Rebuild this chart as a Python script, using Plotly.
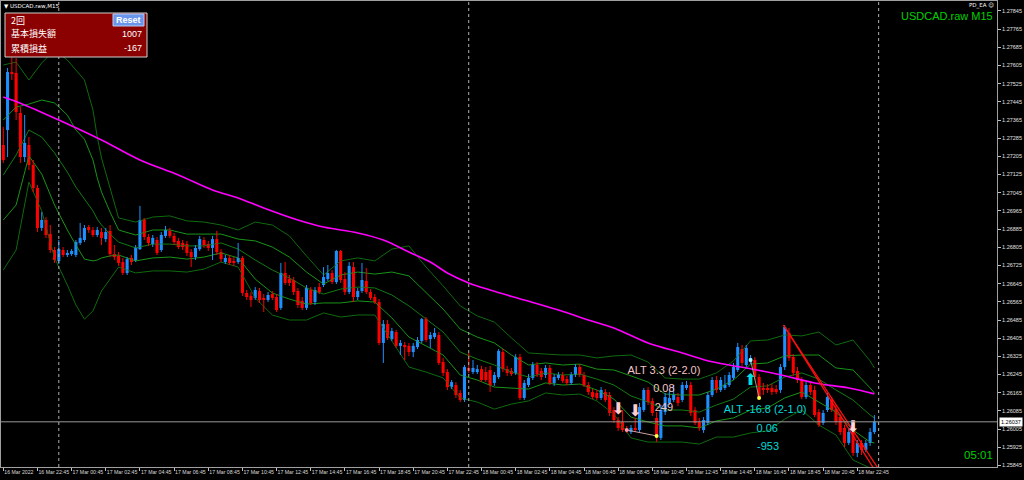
import plotly.graph_objects as go

# ---------------- data ----------------
opens = [1.27255,1.27321,1.27576,1.27572,1.27396,1.27202,1.27255,1.27167,1.27066,1.26890,
         1.26925,1.26863,1.26793,1.26745,1.26793,1.26771,1.26775,1.26771,1.26824,1.26837,
         1.26894,1.26881,1.26859,1.26872,1.26841,1.26877,1.26775,1.26767,1.26740,1.26692,
         1.26758,1.26749,1.26797,1.26925,1.26850,1.26819,1.26837,1.26793,1.26855,1.26877,
         1.26855,1.26833,1.26824,1.26819,1.26784,1.26762,1.26797,1.26837,1.26819,1.26802,
         1.26841,1.26784,1.26740,1.26758,1.26745,1.26740,1.26758,1.26604,1.26591,1.26582,
         1.26613,1.26582,1.26573,1.26599,1.26586,1.26538,1.26692,1.26665,1.26661,1.26613,
         1.26569,1.26538,1.26617,1.26564,1.26630,1.26639,1.26665,1.26692,1.26652,1.26789,
         1.26665,1.26608,1.26718,1.26586,1.26613,1.26657,1.26608,1.26586,1.26564,1.26384,
         1.26467,1.26401,1.26432,1.26371,1.26375,1.26371,1.26344,1.26366,1.26393,1.26489,
         1.26401,1.26410,1.26419,1.26300,1.26256,1.26190,1.26199,1.26164,1.26133,1.26274,
         1.26256,1.26256,1.26269,1.26256,1.26265,1.26208,1.26234,1.26344,1.26269,1.26261,
         1.26252,1.26322,1.26142,1.26199,1.26230,1.26287,1.26261,1.26243,1.26274,1.26208,
         1.26230,1.26243,1.26225,1.26208,1.26243,1.26278,1.26243,1.26199,1.26168,1.26164,
         1.26142,1.26168,1.26155,1.26089,1.26045,1.26036,1.26005,1.25992,1.26010,1.26001,
         1.26089,1.26177,1.26129,1.26054,1.25966,1.26080,1.26120,1.26133,1.26146,1.26133,
         1.26186,1.26199,1.26089,1.26036,1.26001,1.26032,1.26155,1.26221,1.26177,1.26186,
         1.26199,1.26230,1.26265,1.26357,1.26287,1.26300,1.26309,1.26234,1.26186,1.26186,
         1.26186,1.26181,1.26177,1.26278,1.26428,1.26322,1.26261,1.26221,1.26146,1.26199,
         1.26177,1.26080,1.26032,1.26089,1.26133,1.26093,1.26058,1.26010,1.25944,1.25992,
         1.25900,1.25944,1.25913,1.25944,1.25992]
highs = [1.27334,1.27594,1.27642,1.27638,1.27422,1.27387,1.27290,1.27189,1.27079,1.26960,
         1.26938,1.26903,1.26806,1.26837,1.26806,1.26793,1.26797,1.26837,1.26912,1.26903,
         1.26903,1.26894,1.26894,1.26890,1.26890,1.26903,1.26815,1.26784,1.26758,1.26762,
         1.26771,1.26815,1.26987,1.26934,1.26863,1.26859,1.26850,1.26872,1.26899,1.26890,
         1.26868,1.26846,1.26837,1.26833,1.26797,1.26815,1.26855,1.26850,1.26833,1.26855,
         1.26877,1.26797,1.26771,1.26771,1.26762,1.26824,1.26767,1.26617,1.26608,1.26630,
         1.26626,1.26599,1.26608,1.26613,1.26599,1.26736,1.26740,1.26683,1.26674,1.26626,
         1.26586,1.26639,1.26630,1.26630,1.26648,1.26718,1.26727,1.26705,1.26793,1.26793,
         1.26696,1.26740,1.26740,1.26626,1.26736,1.26714,1.26621,1.26599,1.26577,1.26485,
         1.26485,1.26450,1.26441,1.26397,1.26388,1.26384,1.26384,1.26410,1.26494,1.26498,
         1.26432,1.26450,1.26432,1.26318,1.26269,1.26221,1.26212,1.26177,1.26287,1.26340,
         1.26309,1.26287,1.26283,1.26278,1.26283,1.26256,1.26357,1.26357,1.26283,1.26274,
         1.26335,1.26335,1.26221,1.26247,1.26300,1.26300,1.26274,1.26287,1.26287,1.26247,
         1.26256,1.26256,1.26239,1.26256,1.26291,1.26291,1.26256,1.26212,1.26181,1.26177,
         1.26190,1.26181,1.26168,1.26102,1.26058,1.26089,1.26019,1.26023,1.26054,1.26120,
         1.26186,1.26190,1.26142,1.26080,1.26111,1.26164,1.26177,1.26199,1.26164,1.26212,
         1.26217,1.26212,1.26102,1.26054,1.26058,1.26168,1.26234,1.26239,1.26234,1.26243,
         1.26256,1.26296,1.26384,1.26375,1.26375,1.26331,1.26322,1.26247,1.26208,1.26203,
         1.26203,1.26199,1.26291,1.26463,1.26450,1.26335,1.26278,1.26234,1.26212,1.26212,
         1.26195,1.26093,1.26089,1.26164,1.26146,1.26111,1.26071,1.26023,1.26010,1.26023,
         1.25957,1.25957,1.25957,1.26010,1.26067]
lows = [1.27176,1.27202,1.27541,1.27365,1.27176,1.27180,1.27145,1.27048,1.26872,1.26877,
        1.26846,1.26780,1.26736,1.26731,1.26762,1.26762,1.26767,1.26762,1.26815,1.26828,
        1.26868,1.26850,1.26850,1.26815,1.26828,1.26762,1.26749,1.26723,1.26683,1.26683,
        1.26727,1.26740,1.26793,1.26837,1.26811,1.26806,1.26771,1.26784,1.26846,1.26846,
        1.26815,1.26797,1.26793,1.26767,1.26718,1.26749,1.26789,1.26802,1.26789,1.26749,
        1.26771,1.26740,1.26731,1.26727,1.26723,1.26731,1.26591,1.26573,1.26542,1.26573,
        1.26560,1.26520,1.26564,1.26573,1.26520,1.26529,1.26639,1.26635,1.26595,1.26538,
        1.26529,1.26529,1.26551,1.26551,1.26599,1.26630,1.26657,1.26643,1.26643,1.26648,
        1.26595,1.26599,1.26564,1.26573,1.26604,1.26599,1.26573,1.26555,1.26375,1.26296,
        1.26397,1.26393,1.26362,1.26331,1.26309,1.26327,1.26322,1.26357,1.26384,1.26388,
        1.26362,1.26401,1.26287,1.26239,1.26177,1.26181,1.26142,1.26124,1.26124,1.26252,
        1.26247,1.26247,1.26212,1.26212,1.26168,1.26195,1.26225,1.26256,1.26239,1.26239,
        1.26243,1.26133,1.26133,1.26190,1.26221,1.26234,1.26221,1.26230,1.26199,1.26195,
        1.26221,1.26208,1.26199,1.26199,1.26234,1.26234,1.26190,1.26155,1.26137,1.26133,
        1.26133,1.26124,1.26063,1.26032,1.25997,1.25992,1.25988,1.25983,1.25992,1.25992,
        1.26080,1.26111,1.26063,1.25948,1.25957,1.26067,1.26111,1.26124,1.26107,1.26124,
        1.26177,1.26063,1.26023,1.25997,1.25988,1.26023,1.26146,1.26164,1.26168,1.26177,
        1.26190,1.26221,1.26256,1.26283,1.26278,1.26291,1.26221,1.26137,1.26155,1.26164,
        1.26155,1.26159,1.26164,1.26265,1.26305,1.26239,1.26208,1.26137,1.26137,1.26155,
        1.26058,1.26014,1.26023,1.26080,1.26080,1.26023,1.25979,1.25926,1.25935,1.25887,
        1.25882,1.25891,1.25904,1.25931,1.25983]
closes = [1.27189,1.27576,1.27567,1.27400,1.27202,1.27264,1.27167,1.27066,1.26890,1.26925,
          1.26859,1.26793,1.26749,1.26797,1.26771,1.26780,1.26789,1.26828,1.26846,1.26890,
          1.26881,1.26859,1.26881,1.26846,1.26872,1.26775,1.26762,1.26736,1.26692,1.26753,
          1.26740,1.26802,1.26925,1.26850,1.26824,1.26846,1.26780,1.26859,1.26881,1.26855,
          1.26828,1.26806,1.26806,1.26780,1.26762,1.26802,1.26841,1.26815,1.26802,1.26841,
          1.26784,1.26753,1.26758,1.26736,1.26736,1.26758,1.26604,1.26586,1.26573,1.26617,
          1.26573,1.26573,1.26595,1.26582,1.26529,1.26692,1.26648,1.26648,1.26608,1.26551,
          1.26538,1.26626,1.26560,1.26617,1.26608,1.26674,1.26692,1.26652,1.26789,1.26661,
          1.26608,1.26723,1.26586,1.26613,1.26661,1.26608,1.26582,1.26564,1.26384,1.26467,
          1.26406,1.26437,1.26371,1.26384,1.26366,1.26344,1.26371,1.26397,1.26489,1.26397,
          1.26419,1.26428,1.26296,1.26252,1.26190,1.26212,1.26155,1.26133,1.26278,1.26261,
          1.26274,1.26269,1.26221,1.26221,1.26199,1.26243,1.26349,1.26269,1.26252,1.26247,
          1.26322,1.26142,1.26208,1.26230,1.26287,1.26247,1.26234,1.26274,1.26208,1.26234,
          1.26243,1.26217,1.26208,1.26243,1.26278,1.26243,1.26199,1.26168,1.26146,1.26142,
          1.26177,1.26133,1.26076,1.26045,1.26010,1.26001,1.25997,1.26010,1.26001,1.26102,
          1.26177,1.26124,1.26076,1.25970,1.26089,1.26146,1.26142,1.26155,1.26120,1.26199,
          1.26199,1.26076,1.26032,1.26010,1.26045,1.26155,1.26221,1.26177,1.26221,1.26199,
          1.26243,1.26278,1.26366,1.26296,1.26362,1.26318,1.26234,1.26146,1.26177,1.26177,
          1.26168,1.26168,1.26278,1.26454,1.26318,1.26252,1.26221,1.26146,1.26199,1.26168,
          1.26067,1.26023,1.26076,1.26146,1.26089,1.26036,1.25992,1.25944,1.25992,1.25900,
          1.25944,1.25913,1.25944,1.25992,1.26037]
bar_index = list(range(len(closes)))

# moving average (magenta) read at sample bars
ma_bars = [0, 4, 13, 23, 32, 41, 49, 55, 61, 69, 75, 83, 89, 95, 100, 104, 109, 114,
           122, 130, 137, 143, 151, 159, 166, 174, 182, 190, 198, 204]
ma_vals = [1.27466, 1.27439, 1.27365, 1.27277, 1.27189, 1.27123, 1.27057, 1.27022, 1.26978,
           1.26925, 1.26894, 1.26868, 1.26837, 1.26784, 1.26740, 1.26692, 1.26648, 1.26617,
           1.26573, 1.26529, 1.26485, 1.26450, 1.26384, 1.26340, 1.26301, 1.26274, 1.26244,
           1.26208, 1.26186, 1.26160]

# Bollinger-style band lines (green), read at sample bars
band_bars = [0, 3, 6, 9, 12, 15, 17, 19, 21, 22, 23, 25, 27, 31, 35, 39, 43, 47, 51, 55, 59,
             63, 67, 71, 75, 79, 83, 87, 91, 95, 99, 103, 107, 111, 115, 119, 123, 127, 131,
             135, 139, 143, 147, 151, 155, 159, 163, 167, 171, 175, 179, 183, 187, 191, 195,
             199, 203, 204]
band_upper2 = [1.27607,1.27620,1.27541,1.27616,1.27673,1.27629,1.27585,1.27541,1.27409,1.27290,
               1.27198,1.27061,1.26934,1.26916,1.26938,1.26943,1.26921,1.26916,1.26903,1.26881,
               1.26916,1.26903,1.26855,1.26767,1.26683,1.26745,1.26758,1.26745,1.26797,1.26811,
               1.26718,1.26635,1.26547,1.26503,1.26476,1.26406,1.26340,1.26335,1.26331,1.26331,
               1.26318,1.26327,1.26331,1.26300,1.26230,1.26225,1.26225,1.26252,1.26305,1.26393,
               1.26397,1.26419,1.26415,1.26432,1.26375,1.26397,1.26305,1.26274]
band_upper1 = [1.27365,1.27422,1.27435,1.27453,1.27440,1.27387,1.27321,1.27281,1.27189,1.27110,
               1.27048,1.26960,1.26881,1.26859,1.26881,1.26881,1.26863,1.26863,1.26863,1.26841,
               1.26833,1.26806,1.26762,1.26696,1.26643,1.26683,1.26696,1.26687,1.26696,1.26679,
               1.26604,1.26533,1.26445,1.26410,1.26384,1.26331,1.26287,1.26296,1.26287,1.26291,
               1.26269,1.26265,1.26239,1.26212,1.26159,1.26155,1.26155,1.26181,1.26221,1.26291,
               1.26296,1.26327,1.26331,1.26331,1.26274,1.26265,1.26186,1.26164]
band_middle = [1.27123,1.27211,1.27321,1.27290,1.27220,1.27136,1.27070,1.27017,1.26965,1.26929,
               1.26903,1.26863,1.26828,1.26802,1.26819,1.26819,1.26811,1.26811,1.26824,1.26797,
               1.26749,1.26705,1.26670,1.26626,1.26599,1.26621,1.26630,1.26626,1.26595,1.26547,
               1.26489,1.26432,1.26344,1.26313,1.26287,1.26256,1.26234,1.26252,1.26243,1.26247,
               1.26225,1.26199,1.26151,1.26124,1.26089,1.26089,1.26080,1.26111,1.26137,1.26190,
               1.26195,1.26234,1.26252,1.26225,1.26177,1.26133,1.26067,1.26054]
band_lower1 = [1.26925,1.26991,1.27207,1.27127,1.26991,1.26881,1.26815,1.26753,1.26745,1.26749,
               1.26758,1.26767,1.26771,1.26745,1.26758,1.26762,1.26753,1.26762,1.26780,1.26758,
               1.26665,1.26604,1.26577,1.26555,1.26560,1.26560,1.26569,1.26564,1.26494,1.26410,
               1.26371,1.26331,1.26243,1.26221,1.26190,1.26186,1.26181,1.26208,1.26199,1.26203,
               1.26177,1.26137,1.26058,1.26036,1.26019,1.26019,1.26010,1.26041,1.26054,1.26089,
               1.26098,1.26142,1.26168,1.26124,1.26080,1.26001,1.25948,1.25944]
band_lower2 = [1.26705,1.26793,1.27092,1.26965,1.26758,1.26639,1.26551,1.26489,1.26525,1.26569,
               1.26613,1.26665,1.26718,1.26692,1.26701,1.26701,1.26696,1.26709,1.26740,1.26718,
               1.26582,1.26507,1.26485,1.26485,1.26516,1.26498,1.26507,1.26507,1.26393,1.26278,
               1.26256,1.26230,1.26142,1.26124,1.26093,1.26115,1.26129,1.26164,1.26155,1.26159,
               1.26129,1.26071,1.25966,1.25948,1.25948,1.25948,1.25939,1.25970,1.25970,1.25988,
               1.25997,1.26049,1.26089,1.26023,1.25979,1.25869,1.25834,1.25834]

bid_price = 1.26037
day_separator_bars = [13, 109, 205]

x_tick_bars = list(range(0, 201, 8))
x_tick_labels = ["16 Mar 2022", "16 Mar 22:45", "17 Mar 00:45", "17 Mar 02:45", "17 Mar 04:45",
                 "17 Mar 06:45", "17 Mar 08:45", "17 Mar 10:45", "17 Mar 12:45", "17 Mar 14:45",
                 "17 Mar 16:45", "17 Mar 18:45", "17 Mar 20:45", "17 Mar 22:45", "18 Mar 00:45",
                 "18 Mar 02:45", "18 Mar 04:45", "18 Mar 06:45", "18 Mar 08:45", "18 Mar 10:45",
                 "18 Mar 12:45", "18 Mar 14:45", "18 Mar 16:45", "18 Mar 18:45", "18 Mar 20:45",
                 "18 Mar 22:45"]
y_tick_vals = [round(1.25845 + 0.0008 * k, 5) for k in range(26)]
y_tick_labels = ["%.5f" % v for v in y_tick_vals]

# signal arrows
arrow_bars = [144, 148, 175, 199]
arrow_prices = [1.26089, 1.26080, 1.26217, 1.26010]
arrow_glyphs = ["⬇", "⬇", "⬆", "⬇"]
arrow_colors = ["#FFCCD0", "#FFCCD0", "#00E0E0", "#FFDADA"]

# entry / exit dots and connecting lines
dot_bars = [146, 153, 175, 177]
dot_prices = [1.26001, 1.25975, 1.26309, 1.26142]
dot_colors = ["#FF9AB0", "#FFFF40", "#A0FFFF", "#FFFF40"]

# trend lines (start bar, start price, end bar, end price)
trend_lines = [(182.7, 1.26463, 204.9, 1.25800), (182.7, 1.26463, 206.0, 1.25800)]

# labels drawn on chart
label_bars = [154.7, 154.7, 154.7, 178.4, 178.9, 179.1]
label_prices = [1.26261, 1.26181, 1.26098, 1.26089, 1.26005, 1.25926]
label_texts = ["ALT 3.3 (2-2.0)", "0.08", "249", "ALT -16.8 (2-1.0)", "0.06", "-953"]
label_colors = ["#F2C4C4", "#F2C4C4", "#F2C4C4", "#00D8D8", "#00D8D8", "#00D8D8"]

panel_rows = [("2回", None), ("基本損失額", "1007"), ("累積損益", "-167")]

# ---------------- figure ----------------
UP, DOWN = "#1E90FF", "#FF0000"
fig = go.Figure()

def add_line(xv, yv, color, width=1.0, shape="linear"):
    fig.add_trace(go.Scatter(x=xv, y=yv, mode="lines", line=dict(color=color, width=width, shape=shape),
                             hoverinfo="skip", showlegend=False))

# bands behind candles
add_line(band_bars, band_upper2, "#0F6A0F")
add_line(band_bars, band_lower2, "#0F6A0F")
add_line(band_bars, band_middle, "#137A13")
add_line(band_bars, band_upper1, "#199319")
add_line(band_bars, band_lower1, "#199319")

for is_up, col in [(True, UP), (False, DOWN)]:
    xs, ys, bx, bb, bh = [], [], [], [], []
    for i, o, h, l, c in zip(bar_index, opens, highs, lows, closes):
        if (c >= o) != is_up:
            continue
        xs += [i, i, None]
        ys += [l, h, None]
        bx.append(i)
        bb.append(min(o, c))
        bh.append(max(abs(c - o), 0.00003))
    fig.add_trace(go.Scatter(x=xs, y=ys, mode="lines", line=dict(color=col, width=1),
                             hoverinfo="skip", showlegend=False))
    fig.add_trace(go.Bar(x=bx, y=bh, base=bb, width=0.72, marker=dict(color=col, line=dict(width=0)),
                         hoverinfo="skip", showlegend=False))

add_line(ma_bars, ma_vals, "#FF00FF", 1.6, "spline")

# connecting thin lines for trades
add_line(dot_bars[0:2], dot_prices[0:2], "#C8A0A0")
add_line(dot_bars[2:4], dot_prices[2:4], "#90A090")
fig.add_trace(go.Scatter(x=dot_bars, y=dot_prices, mode="markers",
                         marker=dict(color=dot_colors, size=4, line=dict(width=0)),
                         hoverinfo="skip", showlegend=False))

for (b0, p0, b1, p1) in trend_lines:
    add_line([b0, b1], [p0, p1], "#FF1010", 1.3)

fig.add_trace(go.Scatter(x=arrow_bars, y=arrow_prices, mode="text", text=arrow_glyphs,
                         textfont=dict(color=arrow_colors, size=16, family="DejaVu Sans"),
                         hoverinfo="skip", showlegend=False))
fig.add_trace(go.Scatter(x=label_bars, y=label_prices, mode="text", text=label_texts,
                         textfont=dict(color=label_colors, size=11, family="Liberation Sans, Arial"),
                         hoverinfo="skip", showlegend=False))

# ---------------- layout ----------------
PL, PR, PT, PB = 1, 997, 1, 467
def X(px):
    return (px - PL) / (PR - PL)
def Y(py):
    return (PB - py) / (PB - PT)

shapes = []
for b in day_separator_bars:
    shapes.append(dict(type="line", xref="x", yref="paper", x0=b, x1=b, y0=0, y1=1,
                       line=dict(color="#B0B0B0", width=1, dash="dot")))
shapes.append(dict(type="line", xref="paper", yref="y", x0=0, x1=1, y0=bid_price, y1=bid_price,
                   line=dict(color="#9A9A9A", width=1)))
# info panel
shapes.append(dict(type="rect", xref="paper", yref="paper", x0=X(5), x1=X(147), y0=Y(57), y1=Y(13),
                   fillcolor="#8B0000", line=dict(color="#D0D0D0", width=1), layer="above"))
shapes.append(dict(type="rect", xref="paper", yref="paper", x0=X(113), x1=X(144), y0=Y(26), y1=Y(14),
                   fillcolor="#6A96EC", line=dict(color="#B8CCF4", width=1), layer="above"))

ann = []
jp = "Noto Sans CJK JP, Liberation Sans"
ann.append(dict(xref="paper", yref="paper", x=X(9), y=Y(20), text=panel_rows[0][0], showarrow=False,
                xanchor="left", yanchor="middle", font=dict(color="white", size=9, family=jp)))
ann.append(dict(xref="paper", yref="paper", x=X(128.5), y=Y(20), text="<b>Reset</b>", showarrow=False,
                xanchor="center", yanchor="middle", font=dict(color="white", size=9, family="Liberation Sans")))
for k, (lab, val) in enumerate(panel_rows[1:]):
    yy = Y(34 + 14 * k)
    ann.append(dict(xref="paper", yref="paper", x=X(9), y=yy, text=lab, showarrow=False,
                    xanchor="left", yanchor="middle", font=dict(color="white", size=9, family=jp)))
    ann.append(dict(xref="paper", yref="paper", x=X(144), y=yy, text=val, showarrow=False,
                    xanchor="right", yanchor="middle", font=dict(color="white", size=9, family="Liberation Sans")))
ann.append(dict(xref="paper", yref="paper", x=X(2), y=Y(5.5), text="▼ USDCAD.raw,M15", showarrow=False,
                xanchor="left", yanchor="middle", font=dict(color="white", size=5.5, family="DejaVu Sans")))
ann.append(dict(xref="paper", yref="paper", x=X(996), y=Y(5.5), text="PD_EA ☺", showarrow=False,
                xanchor="right", yanchor="middle", font=dict(color="white", size=5.5, family="DejaVu Sans")))
ann.append(dict(xref="paper", yref="paper", x=X(995), y=Y(15.5), text="USDCAD.raw M15", showarrow=False,
                xanchor="right", yanchor="middle", font=dict(color="#00D000", size=11, family="Liberation Sans")))
ann.append(dict(xref="paper", yref="paper", x=X(995), y=Y(455), text="05:01", showarrow=False,
                xanchor="right", yanchor="middle", font=dict(color="#00D000", size=11.5, family="Liberation Sans")))
ann.append(dict(xref="paper", yref="y", x=X(999), y=bid_price, text="1.26037", showarrow=False,
                xanchor="left", yanchor="middle", bgcolor="white", borderpad=1,
                font=dict(color="black", size=5.5, family="Liberation Sans")))

fig.update_layout(
    width=1024, height=480,
    margin=dict(l=PL, r=1024 - PR, t=PT, b=480 - PB),
    paper_bgcolor="black", plot_bgcolor="black",
    barmode="overlay", showlegend=False,
    shapes=shapes, annotations=ann,
    xaxis=dict(range=[(PL - 3.3) / 4.27, (PR - 3.3) / 4.27], tickvals=x_tick_bars, ticktext=x_tick_labels,
               tickangle=0, ticklabelposition="outside right",
               tickfont=dict(color="#D8D8D8", size=5.2, family="Liberation Sans"),
               ticks="outside", ticklen=3, tickcolor="#C0C0C0", showgrid=False, zeroline=False,
               showline=True, linecolor="#A0A0A0", linewidth=1, mirror=True, fixedrange=True),
    yaxis=dict(range=[1.27893 - 0.000044 * PB, 1.27893 - 0.000044 * PT], side="right",
               tickvals=y_tick_vals, ticktext=y_tick_labels,
               tickfont=dict(color="#E0E0E0", size=5.5, family="Liberation Sans"),
               ticks="outside", ticklen=3, tickcolor="#C0C0C0", showgrid=False, zeroline=False,
               showline=True, linecolor="#A0A0A0", linewidth=1, mirror=True, fixedrange=True),
)

fig.write_html("out.html", config={"displayModeBar": False},
               post_script="document.body.style.margin='0';document.body.style.background='black';")
